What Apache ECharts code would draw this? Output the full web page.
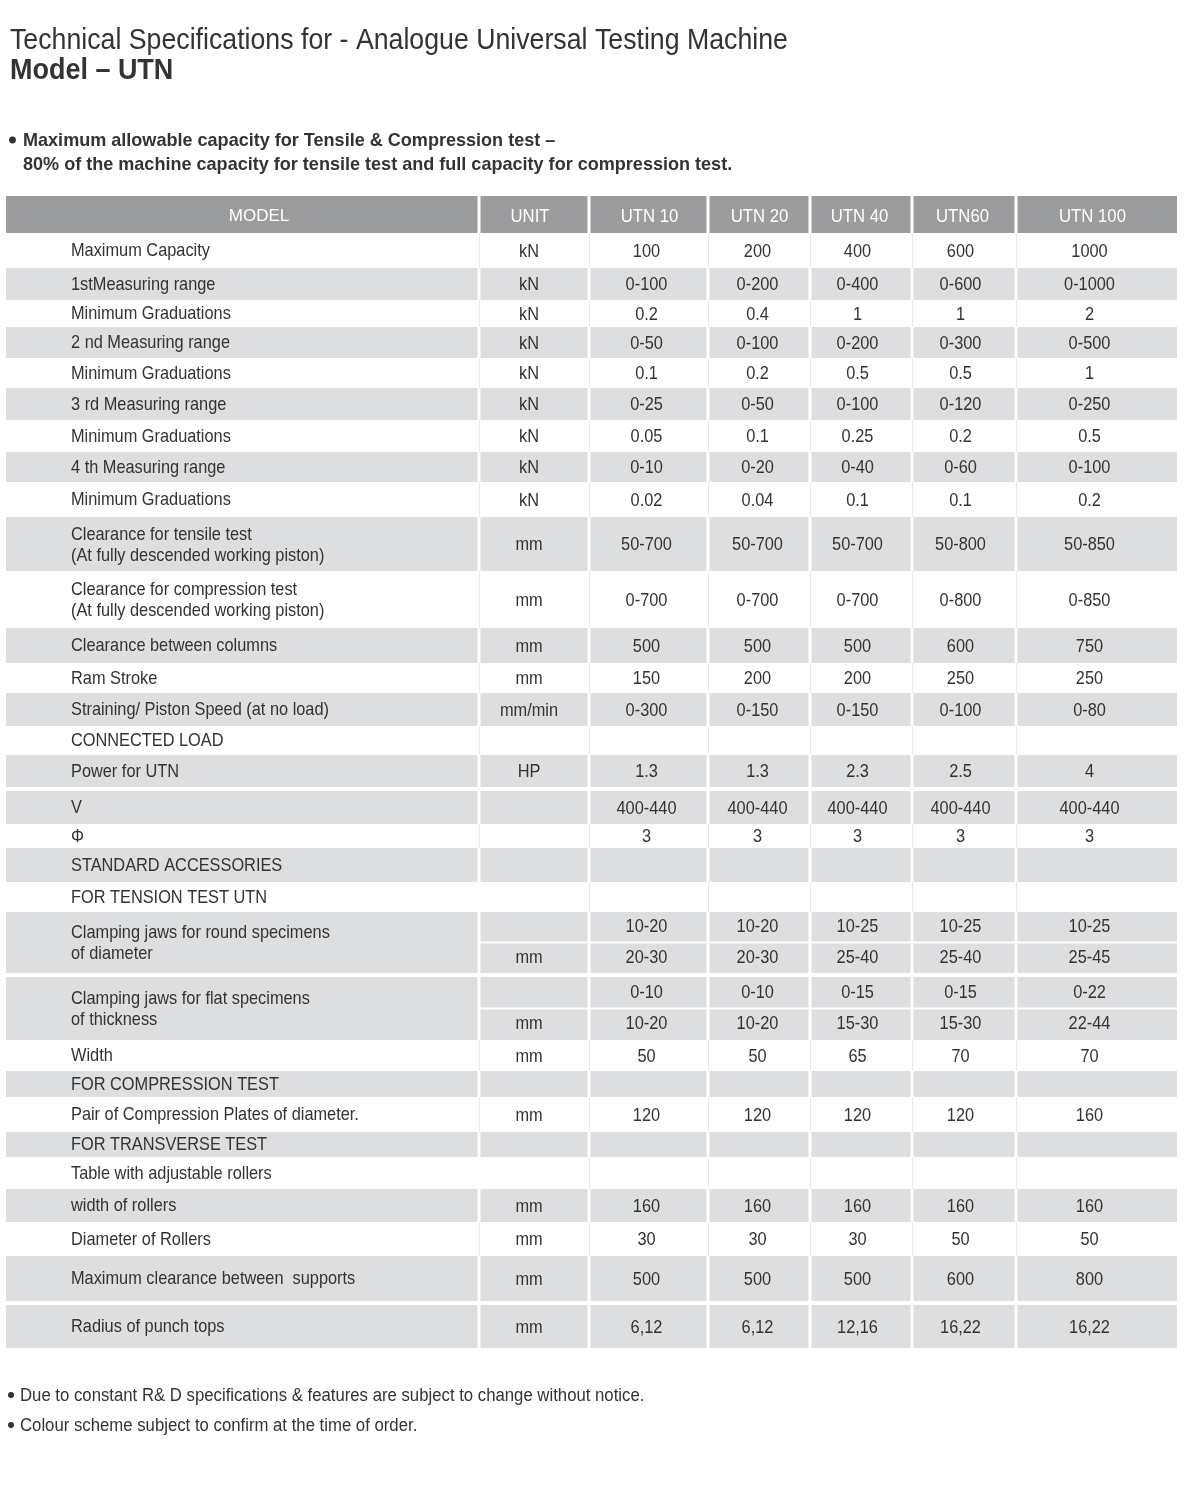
<!DOCTYPE html>
<html>
<head>
<meta charset="utf-8">
<script src="https://cdn.jsdelivr.net/npm/echarts@6/dist/echarts.min.js"></script>
<style>
html,body{margin:0;padding:0;background:#fff;}
#chart{width:1184px;height:1500px;}
</style>
</head>
<body>
<div id="chart"></div>
<script>
// ---------------- DATA ----------------
const titleText = 'Technical Specifications for - Analogue Universal Testing Machine';
const modelText = 'Model \u2013 UTN';
const noteLines = [
  'Maximum allowable capacity for Tensile & Compression test \u2013',
  '80% of the machine capacity for tensile test and full capacity for compression test.'
];
const footerLines = [
  'Due to constant R& D specifications & features are subject to change without notice.',
  'Colour scheme subject to confirm at the time of order.'
];
const headerLabels = ['MODEL', 'UNIT'];
const models = ['UTN 10', 'UTN 20', 'UTN 40', 'UTN60', 'UTN 100'];
const specLabels = [
  'Maximum Capacity',
  '1stMeasuring range',
  'Minimum Graduations',
  '2 nd Measuring range',
  'Minimum Graduations',
  '3 rd Measuring range',
  'Minimum Graduations',
  '4 th Measuring range',
  'Minimum Graduations',
  'Clearance for tensile test\n(At fully descended working piston)',
  'Clearance for compression test\n(At fully descended working piston)',
  'Clearance between columns',
  'Ram Stroke',
  'Straining/ Piston Speed (at no load)',
  'CONNECTED LOAD',
  'Power for UTN',
  'V',
  '\u03A6',
  'STANDARD ACCESSORIES',
  'FOR TENSION TEST UTN',
  'Clamping jaws for round specimens\nof diameter',
  'Clamping jaws for flat specimens\nof thickness',
  'Width',
  'FOR COMPRESSION TEST',
  'Pair of Compression Plates of diameter.',
  'FOR TRANSVERSE TEST',
  'Table with adjustable rollers',
  'width of rollers',
  'Diameter of Rollers',
  'Maximum clearance between  supports',
  'Radius of punch tops'
];
const units = ['kN','kN','kN','kN','kN','kN','kN','kN','kN','mm','mm','mm','mm','mm/min','','HP','','','','',
  '\nmm','\nmm','mm','','mm','','','mm','mm','mm','mm'];
const utn10  = ['100','0-100','0.2','0-50','0.1','0-25','0.05','0-10','0.02','50-700','0-700','500','150','0-300','','1.3','400-440','3','','',
  '10-20\n20-30','0-10\n10-20','50','','120','','','160','30','500','6,12'];
const utn20  = ['200','0-200','0.4','0-100','0.2','0-50','0.1','0-20','0.04','50-700','0-700','500','200','0-150','','1.3','400-440','3','','',
  '10-20\n20-30','0-10\n10-20','50','','120','','','160','30','500','6,12'];
const utn40  = ['400','0-400','1','0-200','0.5','0-100','0.25','0-40','0.1','50-700','0-700','500','200','0-150','','2.3','400-440','3','','',
  '10-25\n25-40','0-15\n15-30','65','','120','','','160','30','500','12,16'];
const utn60  = ['600','0-600','1','0-300','0.5','0-120','0.2','0-60','0.1','50-800','0-800','600','250','0-100','','2.5','400-440','3','','',
  '10-25\n25-40','0-15\n15-30','70','','120','','','160','50','600','16,22'];
const utn100 = ['1000','0-1000','2','0-500','1','0-250','0.5','0-100','0.2','50-850','0-850','750','250','0-80','','4','400-440','3','','',
  '10-25\n25-45','0-22\n22-44','70','','160','','','160','50','800','16,22'];

// ---------------- LAYOUT (sizes / styles only) ----------------
const colWidths = [473, 110, 119, 102, 102, 104, 161];
const headerHeight = 37;
const rowHeights = [35,32,27,31,30,32,32,30,35,54,57,35,30,33,29,32,37,24,34,30,61,67,31,26,35,25,32,33,34,45,47];
const rowShade  = ['w','g','w','g','w','g','w','g','w','g','w','g','w','g','w','g','g','w','g','w','g','g','w','g','w','g','w','g','w','g','g'];
const noLineRows = [19, 26];
const textShift   = [65, -5, -2, -1.5, -3.5, -3.5, -7];
const headerShift = [16.5, -4, 1, 0.5, -1.5, -1.5, -4];
const GAP = 3;
const GRAY = '#dddee0', HEAD = '#9b9c9e', INK = '#333333', LINE = '#e9e9e9';
const FONT = "'Liberation Sans',Arial,Helvetica,sans-serif";
const NARROW_X = 0.86;   // horizontal squeeze to imitate a condensed face
const BODY_SIZE = 19;

// ---------------- BUILD CELLS ----------------
const valueCols = [utn10, utn20, utn40, utn60, utn100];
const colEdges = [0];
colWidths.forEach(w => colEdges.push(colEdges[colEdges.length - 1] + w));
const rowEdges = [0, headerHeight];
rowHeights.forEach(h => rowEdges.push(rowEdges[rowEdges.length - 1] + h));
const totalW = colEdges[colEdges.length - 1];
const totalH = rowEdges[rowEdges.length - 1];

const cells = [];
const headerRow = headerLabels.concat(models);
headerRow.forEach((t, c) => cells.push({r: -1, c, text: t, kind: 'head'}));
specLabels.forEach((lab, r) => {
  const rowVals = [lab, units[r]].concat(valueCols.map(a => a[r]));
  rowVals.forEach((t, c) => cells.push({r, c, text: t, kind: 'body'}));
});
const seriesData = cells.map(cell => {
  const ri = cell.r + 1;
  return [colEdges[cell.c], colEdges[cell.c + 1], rowEdges[ri], rowEdges[ri + 1]];
});

function txt(x, y, text, o) {
  o = o || {};
  return {
    type: 'text', x, y, scaleX: o.sx == null ? NARROW_X : o.sx, scaleY: 1,
    style: {
      text, x: 0, y: 0, align: o.align || 'center', verticalAlign: 'middle',
      fill: o.fill || INK, fontSize: o.size || BODY_SIZE, fontFamily: FONT,
      fontWeight: o.weight || 'normal', lineHeight: o.lh || undefined
    }
  };
}

function renderItem(params, api) {
  const cell = cells[params.dataIndex];
  const p0 = api.coord([api.value(0), api.value(2)]);
  const p1 = api.coord([api.value(1), api.value(3)]);
  const nCols = colWidths.length;
  const x0 = p0[0], x1 = p1[0], y0 = p0[1], y1 = p1[1];
  const children = [];
  const innerL = cell.c > 0 ? GAP / 2 : 0;
  const innerR = cell.c < nCols - 1 ? GAP / 2 : 0;
  let fill = null;
  if (cell.kind === 'head') fill = HEAD;
  else if (rowShade[cell.r] === 'g') fill = GRAY;
  let top = y0;
  if (cell.kind === 'body' && cell.r > 0 && rowShade[cell.r] === 'g' && rowShade[cell.r - 1] === 'g') top = y0 + GAP + 1;
  const lines = String(cell.text).split('\n');
  const split = cell.kind === 'body' && cell.c > 0 && lines.length > 1;
  const mid = (top + y1) / 2;
  if (fill) {
    const w = x1 - x0 - innerL - innerR;
    if (split) {
      children.push({type: 'rect', shape: {x: x0 + innerL, y: top, width: w, height: mid - top - 1}, style: {fill}});
      children.push({type: 'rect', shape: {x: x0 + innerL, y: mid + 1, width: w, height: y1 - mid - 1}, style: {fill}});
    } else {
      children.push({type: 'rect', shape: {x: x0 + innerL, y: top, width: w, height: y1 - top}, style: {fill}});
    }
  } else if (cell.c > 0 && !(cell.c === 1 && noLineRows.indexOf(cell.r) >= 0)) {
    children.push({type: 'line', shape: {x1: x0 + 0.5, y1: y0, x2: x0 + 0.5, y2: y1}, style: {stroke: LINE, lineWidth: 1}});
  }
  const cy = (top + y1) / 2 + 1;
  if (cell.kind === 'head') {
    if (cell.c === 0) {
      children.push(txt((x0 + x1) / 2 + headerShift[0], cy + 1, cell.text, {fill: '#ffffff', size: 17, sx: 1}));
    } else {
      children.push(txt((x0 + x1) / 2 + headerShift[cell.c], cy + 1, cell.text, {fill: '#ffffff', size: 19, sx: 0.88}));
    }
  } else if (cell.c === 0) {
    children.push(txt(x0 + textShift[0], cy + (lines.length > 1 ? 0 : -0.5), cell.text, {align: 'left', lh: 21}));
  } else if (split) {
    const centers = [(top + mid) / 2, (mid + y1) / 2];
    lines.forEach((ln, i) => {
      if (ln) children.push(txt((x0 + x1) / 2 + textShift[cell.c], centers[i], ln));
    });
  } else if (cell.text) {
    children.push(txt((x0 + x1) / 2 + textShift[cell.c], cy, cell.text));
  }
  return {type: 'group', children};
}

function gtext(x, y, text, size, weight, sx) {
  return {type: 'text', x, y, scaleX: sx, style: {text, fontSize: size, fontWeight: weight, fontFamily: FONT, fill: INK, verticalAlign: 'middle'}};
}
function dot(cx, cy, r) {
  return {type: 'circle', shape: {cx, cy, r}, style: {fill: INK}};
}

const chart = echarts.init(document.getElementById('chart'), null, {renderer: 'canvas'});
chart.setOption({
  backgroundColor: '#ffffff',
  animation: false,
  grid: {left: 6, top: 196, width: totalW, height: totalH},
  xAxis: {type: 'value', min: 0, max: totalW, show: false},
  yAxis: {type: 'value', min: 0, max: totalH, inverse: true, show: false},
  series: [{
    type: 'custom',
    renderItem,
    encode: {x: [0, 1], y: [2, 3]},
    data: seriesData,
    silent: true,
    clip: false
  }],
  graphic: [
    gtext(10, 41, titleText, 29, 'normal', 0.921),
    gtext(10, 71, modelText, 29, 'bold', 0.93),
    dot(12.5, 140, 3.4),
    gtext(23, 141, noteLines[0], 19, 'bold', 0.95),
    gtext(23, 165, noteLines[1], 19, 'bold', 0.95),
    dot(11, 1395, 3),
    gtext(20, 1396, footerLines[0], 18, 'normal', 0.93),
    dot(11, 1425, 3),
    gtext(20, 1426, footerLines[1], 18, 'normal', 0.93)
  ]
});
</script>
</body>
</html>
